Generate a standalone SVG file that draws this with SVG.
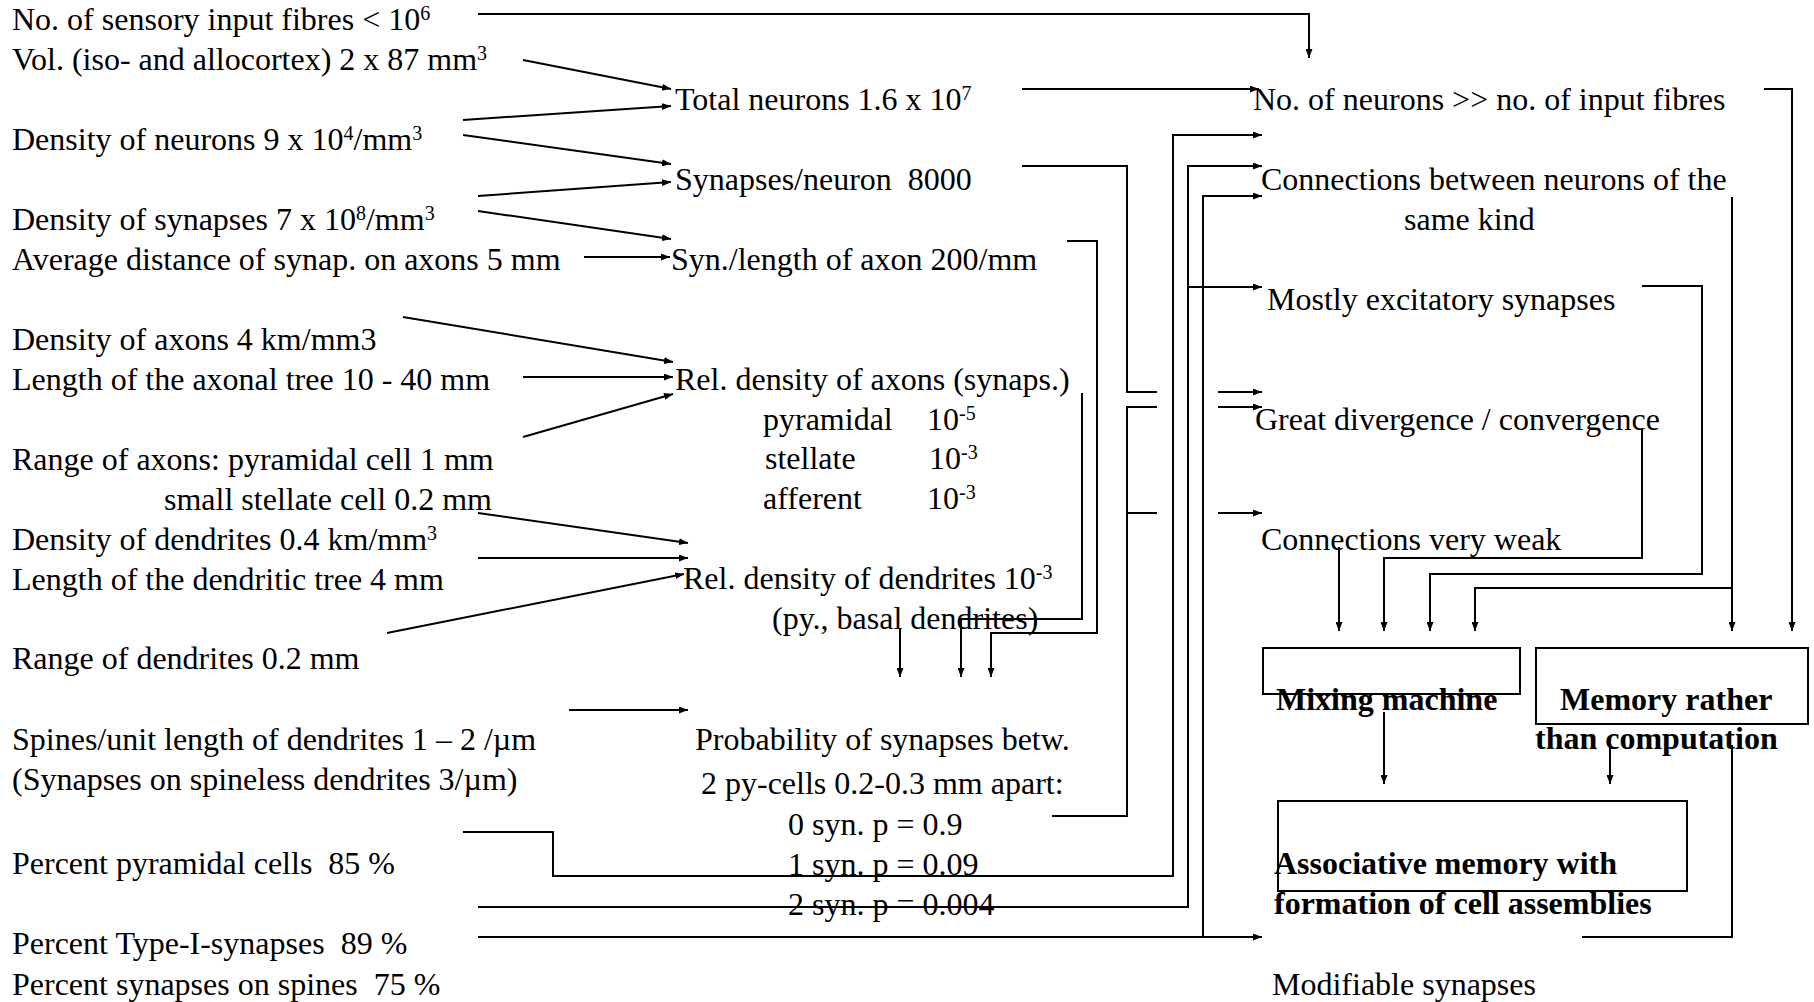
<svg xmlns="http://www.w3.org/2000/svg" width="1814" height="1002" viewBox="0 0 1814 1002">
<style>
text{font-family:"Liberation Serif","Times New Roman",serif;font-size:32px;fill:#000;white-space:pre;transform:translateY(1.5px)}
.b{font-weight:bold}
.sup{font-size:20px}
.c{fill:none;stroke:#000;stroke-width:2}
.a{marker-end:url(#ah)}
.box{fill:none;stroke:#000;stroke-width:2}
</style>
<defs>
<marker id="ah" viewBox="0 0 9 7" refX="9" refY="3.5" markerWidth="9" markerHeight="7" markerUnits="userSpaceOnUse" orient="auto"><path d="M0,0 L9,3.5 L0,7 z" fill="#000"/></marker>
</defs>
<rect width="1814" height="1002" fill="#fff"/>
<g id="connectors">
<path class="c a" d="M478,14 H1309 V58"/>
<path class="c a" d="M523,60 L671,89"/>
<path class="c a" d="M463,120 L671,106"/>
<path class="c a" d="M463,135 L671,164"/>
<path class="c a" d="M478,196 L671,182"/>
<path class="c a" d="M478,211 L671,239"/>
<path class="c a" d="M584,257 H670"/>
<path class="c a" d="M403,317 L673,362"/>
<path class="c a" d="M523,377 H673"/>
<path class="c a" d="M523,437 L673,394"/>
<path class="c a" d="M478,513 L688,543"/>
<path class="c a" d="M478,558 H688"/>
<path class="c a" d="M387,633 L684,574"/>
<path class="c a" d="M569,710 H688"/>
<path class="c a" d="M463,832 H553 V876 H1173 V135 H1262"/>
<path class="c a" d="M478,907 H1188 V166 H1262"/>
<path class="c a" d="M1188,287 H1262"/>
<path class="c a" d="M478,937 H1203 V196 H1262"/>
<path class="c a" d="M1203,937 H1262"/>
<path class="c a" d="M1022,89 H1259"/>
<path class="c" d="M1022,166 H1127 V392 H1157"/>
<path class="c a" d="M1218,392 H1262"/>
<path class="c" d="M1052,816 H1127 V407 H1157"/>
<path class="c" d="M1127,513 H1157"/>
<path class="c a" d="M1218,407 H1262"/>
<path class="c a" d="M1218,513 H1262"/>
<path class="c a" d="M1067,241 H1097 V633 H991 V677"/>
<path class="c a" d="M1082,393 V619 H961 V677"/>
<path class="c a" d="M900,628 V677"/>
<path class="c a" d="M1764,89 H1792 V631"/>
<path class="c a" d="M1732,197 V631"/>
<path class="c a" d="M1732,588 H1475 V631"/>
<path class="c a" d="M1642,286 H1702 V574 H1430 V631"/>
<path class="c a" d="M1642,428 V558 H1384 V631"/>
<path class="c a" d="M1339,547 V631"/>
<path class="c a" d="M1384,712 V784"/>
<path class="c a" d="M1610,747 V784"/>
<path class="c" d="M1582,937 H1732 V745"/>
</g>
<g id="n-fibres"><text x="12" y="28">No. of sensory input fibres &lt; 10<tspan class="sup" dy="-10">6</tspan></text></g>
<g id="n-vol"><text x="12" y="68">Vol. (iso- and allocortex) 2 x 87 mm<tspan class="sup" dy="-10">3</tspan></text></g>
<g id="n-densneur"><text x="12" y="148">Density of neurons 9 x 10<tspan class="sup" dy="-10">4</tspan><tspan dy="10">/mm</tspan><tspan class="sup" dy="-10">3</tspan></text></g>
<g id="n-denssyn"><text x="12" y="228">Density of synapses 7 x 10<tspan class="sup" dy="-10">8</tspan><tspan dy="10">/mm</tspan><tspan class="sup" dy="-10">3</tspan></text></g>
<g id="n-avgdist"><text x="12" y="268">Average distance of synap. on axons 5 mm</text></g>
<g id="n-densax"><text x="12" y="348">Density of axons 4 km/mm3</text></g>
<g id="n-lenax"><text x="12" y="388">Length of the axonal tree 10 - 40 mm</text></g>
<g id="n-rangeax"><text x="12" y="468">Range of axons: pyramidal cell 1 mm</text><text x="164" y="508">small stellate cell 0.2 mm</text></g>
<g id="n-densden"><text x="12" y="548">Density of dendrites 0.4 km/mm<tspan class="sup" dy="-10">3</tspan></text></g>
<g id="n-lenden"><text x="12" y="588">Length of the dendritic tree 4 mm</text></g>
<g id="n-rangeden"><text x="12" y="667">Range of dendrites 0.2 mm</text></g>
<g id="n-spines"><text x="12" y="748">Spines/unit length of dendrites 1 – 2 /µm</text><text x="12" y="788">(Synapses on spineless dendrites 3/µm)</text></g>
<g id="n-pctpyr"><text x="12" y="872">Percent pyramidal cells  85 %</text></g>
<g id="n-pcttype"><text x="12" y="952">Percent Type-I-synapses  89 %</text></g>
<g id="n-pctspines"><text x="12" y="993">Percent synapses on spines  75 %</text></g>
<g id="n-total"><text x="675" y="108">Total neurons 1.6 x 10<tspan class="sup" dy="-10">7</tspan></text></g>
<g id="n-synneur"><text x="675" y="188">Synapses/neuron  8000</text></g>
<g id="n-synlen"><text x="671" y="268">Syn./length of axon 200/mm</text></g>
<g id="n-reldensax"><text x="675" y="388">Rel. density of axons (synaps.)</text>
<text x="763" y="428">pyramidal</text><text x="927" y="428">10<tspan class="sup" dy="-10">-5</tspan></text>
<text x="765" y="467">stellate</text><text x="929" y="467">10<tspan class="sup" dy="-10">-3</tspan></text>
<text x="763" y="507">afferent</text><text x="927" y="507">10<tspan class="sup" dy="-10">-3</tspan></text></g>
<g id="n-reldensden"><text x="683" y="587">Rel. density of dendrites 10<tspan class="sup" dy="-10">-3</tspan></text><text x="772" y="627">(py., basal dendrites)</text></g>
<g id="n-prob"><text x="695" y="748">Probability of synapses betw.</text><text x="701" y="792">2 py-cells 0.2-0.3 mm apart:</text><text x="788" y="833">0 syn. p = 0.9</text><text x="788" y="873">1 syn. p = 0.09</text><text x="788" y="913">2 syn. p = 0.004</text></g>
<g id="n-neurons"><text x="1253" y="108">No. of neurons &gt;&gt; no. of input fibres</text></g>
<g id="n-samekind"><text x="1261" y="188">Connections between neurons of the</text><text x="1404" y="228">same kind</text></g>
<g id="n-excit"><text x="1267" y="308">Mostly excitatory synapses</text></g>
<g id="n-diverg"><text x="1255" y="428">Great divergence / convergence</text></g>
<g id="n-weak"><text x="1261" y="548">Connections very weak</text></g>
<g id="n-mixing"><rect class="box" x="1263" y="648" width="257" height="46"/><text class="b" x="1276" y="708">Mixing machine</text></g>
<g id="n-memory"><rect class="box" x="1536" y="648" width="272" height="76"/><text class="b" x="1560" y="708">Memory rather</text><text class="b" x="1535" y="747">than computation</text></g>
<g id="n-assoc"><rect class="box" x="1278" y="801" width="409" height="90"/><text class="b" x="1274" y="872">Associative memory with</text><text class="b" x="1274" y="912">formation of cell assemblies</text></g>
<g id="n-modif"><text x="1272" y="993">Modifiable synapses</text></g>
</svg>
